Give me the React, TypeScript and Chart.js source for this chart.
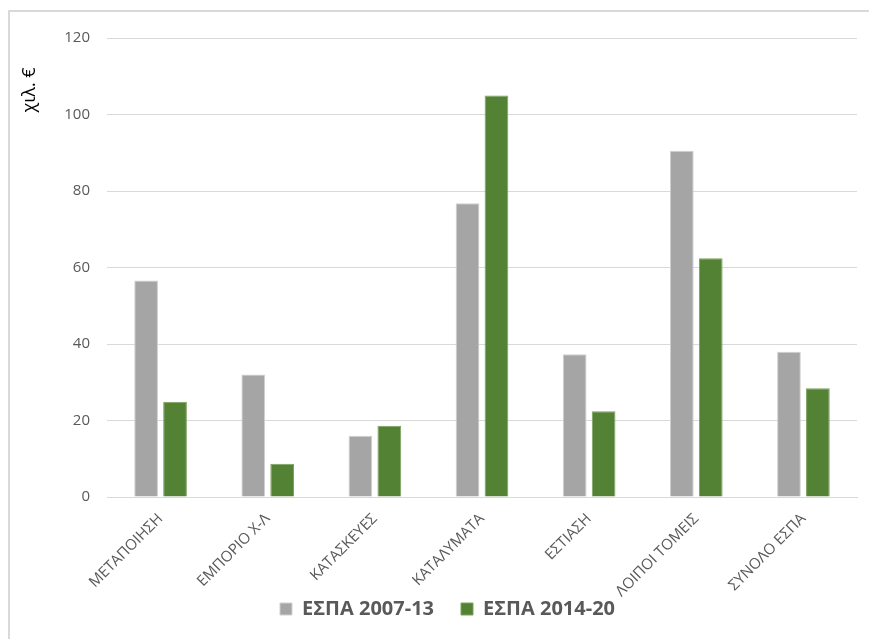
import React, { useEffect, useRef } from "react";
import { Chart, registerables } from "chart.js";

Chart.register(...registerables);

const categories = [
  "ΜΕΤΑΠΟΙΗΣΗ",
  "ΕΜΠΟΡΙΟ Χ-Λ",
  "ΚΑΤΑΣΚΕΥΕΣ",
  "ΚΑΤΑΛΥΜΑΤΑ",
  "ΕΣΤΙΑΣΗ",
  "ΛΟΙΠΟΙ ΤΟΜΕΙΣ",
  "ΣΥΝΟΛΟ ΕΣΠΑ",
];
const espa2007 = [56.6, 32.0, 16.0, 76.8, 37.3, 90.5, 38.0];
const espa2014 = [24.9, 8.7, 18.6, 105.0, 22.4, 62.4, 28.4];
const seriesNames = ["ΕΣΠΑ 2007-13", "ΕΣΠΑ 2014-20"];
const yTitle = "χιλ. €";

const FONT = "'Open Sans', 'Noto Sans', sans-serif";

const yTitlePlugin = {
  id: "yTitlePlugin",
  afterDraw(chart: any) {
    const ctx = chart.ctx;
    const area = chart.chartArea;
    ctx.save();
    ctx.translate(area.left - 77, area.top + 52);
    ctx.rotate(-Math.PI / 2);
    ctx.fillStyle = "#000000";
    ctx.font = `18px ${FONT}`;
    ctx.textAlign = "center";
    ctx.textBaseline = "middle";
    ctx.fillText(yTitle, 0, 0);
    ctx.restore();
  },
};

// let the rotated category labels run below the x scale box (as in the original)
const unclipXLabels = {
  id: "unclipXLabels",
  afterLayout(chart: any) {
    const x = chart.scales.x;
    if (x) x.bottom = chart.height;
  },
};

export default function App() {
  const ref = useRef<HTMLCanvasElement>(null);
  useEffect(() => {
    if (!ref.current) return;
    const chart = new Chart(ref.current, {
      type: "bar",
      data: {
        labels: categories,
        datasets: [
          {
            label: seriesNames[0],
            data: espa2007,
            backgroundColor: "#a5a5a5",
            borderColor: "#d0d0d0",
            borderWidth: 1,
            categoryPercentage: 0.54,
            barPercentage: 0.82,
          },
          {
            label: seriesNames[1],
            data: espa2014,
            backgroundColor: "#548235",
            borderColor: "#7aa05e",
            borderWidth: 1,
            categoryPercentage: 0.54,
            barPercentage: 0.82,
          },
        ],
      },
      options: {
        responsive: false,
        animation: false,
        layout: { padding: { top: 2, right: 12, left: 28, bottom: 10 } },
        plugins: {
          legend: {
            position: "bottom",
            labels: {
              boxWidth: 12,
              boxHeight: 12,
              padding: 27,
              color: "#595959",
              font: { family: FONT, size: 20, weight: "bold" },
            },
          },
          tooltip: { enabled: false },
        },
        scales: {
          x: {
            grid: { display: false, drawTicks: false },
            border: { display: true, color: "#d9d9d9" },
            ticks: {
              color: "#595959",
              font: { family: FONT, size: 15 },
              minRotation: 45,
              maxRotation: 46,
              padding: 13,
              autoSkip: false,
            },
            afterFit(scale: any) {
              scale.height = 75;
            },
          },
          y: {
            min: 0,
            max: 120,
            ticks: {
              stepSize: 20,
              color: "#595959",
              font: { family: FONT, size: 15 },
              padding: 17,
            },
            grid: { color: "#d9d9d9", drawTicks: false },
            border: { display: false },
            afterFit(scale: any) {
              scale.width = 69;
            },
          },
        },
      },
      plugins: [yTitlePlugin, unclipXLabels],
    });
    return () => chart.destroy();
  }, []);

  return (
    <div
      style={{
        position: "absolute",
        left: 8,
        top: 10,
        width: 861,
        height: 629,
        borderTop: "2px solid #d9d9d9",
        borderLeft: "2px solid #d9d9d9",
        boxSizing: "border-box",
        background: "#ffffff",
      }}
    >
      <canvas ref={ref} width={859} height={627} style={{ display: "block" }} />
    </div>
  );
}
